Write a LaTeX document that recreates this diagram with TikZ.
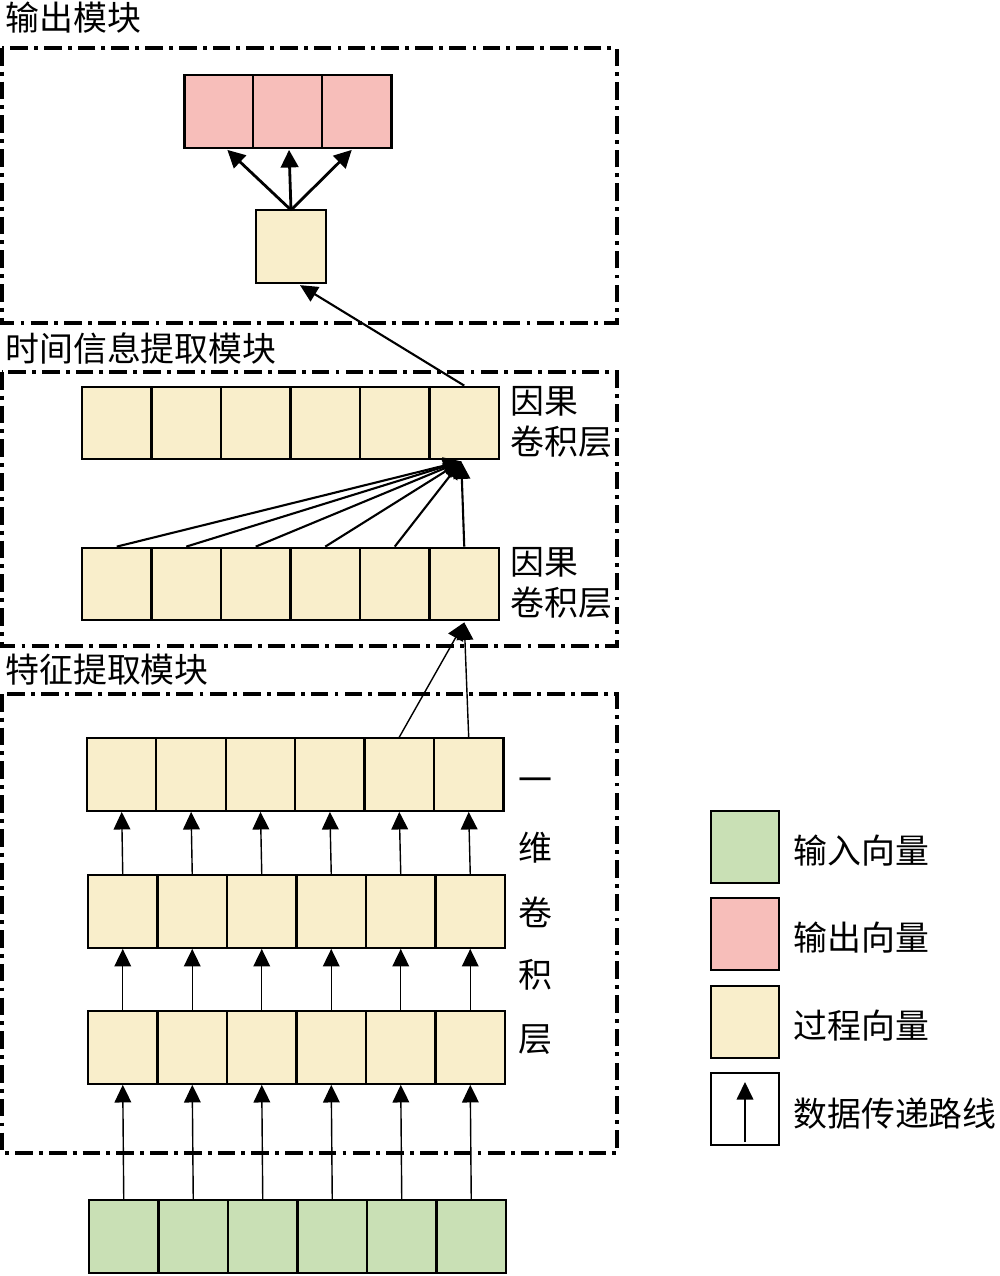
\documentclass[tikz,border=0pt]{standalone}
\usepackage{fontspec}
\newfontfamily\cjk{Noto Sans CJK SC}
\usetikzlibrary{arrows.meta,calc}
\definecolor{cgreen}{RGB}{201,224,181}
\definecolor{cred}{RGB}{247,190,186}
\definecolor{cyel}{RGB}{249,238,203}
\tikzset{
  cell/.style={draw=black,line width=1.3pt,inner sep=0pt,minimum width=1.39cm,minimum height=1.45cm},
  ycell/.style={cell,fill=cyel},
  gcell/.style={cell,fill=cgreen},
  rcell/.style={cell,fill=cred},
  module/.style={draw=black,line width=2pt,dash pattern=on 10pt off 3.5pt on 2.2pt off 3.5pt},
  txt/.style={font=\cjk\fontsize{19.3pt}{23pt}\selectfont,inner sep=0pt},
  arr/.style={-{Triangle[length=10pt,width=9.5pt]},line width=0.8pt},
  arrb/.style={-{Triangle[length=10pt,width=10pt]},line width=1.6pt},
  arrm/.style={-{Triangle[length=10pt,width=9.5pt]},line width=1.2pt},
}
\begin{document}
\begin{tikzpicture}[x=0.02cm,y=-0.02cm]
\useasboundingbox (0,0) rectangle (1000,1276);
% module boxes
\draw[module] (2,48) rectangle (617,323);
\draw[module] (2,372) rectangle (617,646);
\draw[module] (2,694) rectangle (617,1153);
\node[txt,anchor=west] (t1) at (5,18) {输出模块};
\node[txt,anchor=west] (t2) at (5,348) {时间信息提取模块};
\node[txt,anchor=west] (t3) at (5,670) {特征提取模块};
% output module
\foreach \i in {1,2,3} \node[rcell] (r\i) at ({185+68.7*(\i-0.5)},111.5) {};
\node[ycell,minimum width=1.4cm,minimum height=1.46cm] (s) at (291,246.5) {};
\coordinate (sN) at (291,210);
\draw[arrb] (sN) -- ($(r1.south)+(8,1)$);
\draw[arrb] (sN) -- ($(r2.south)+(1,1)$);
\draw[arrb] (sN) -- ($(r3.south)+(-5,1)$);
% causal layers
\foreach \i in {1,...,6} \node[ycell] (c\i) at ({82+69.5*(\i-0.5)},423) {};
\foreach \i in {1,...,6} \node[ycell] (d\i) at ({82+69.5*(\i-0.5)},584) {};
\node[txt,anchor=west,align=left] (lab1) at (510,422) {因果\\卷积层};
\node[txt,anchor=west,align=left] (lab2) at (510,583) {因果\\卷积层};
\coordinate (cT) at ($(c6.south)+(-3,1)$);
\foreach \i in {1,...,6} \draw[arrm] (d\i.north) -- (cT);
\draw[arrm] (c6.north) -- ($(s.south)+(9,1)$);
% feature layers
\foreach \i in {1,...,6} \node[ycell] (fa\i) at ({87+69.4*(\i-0.5)},774.5) {};
\foreach \i in {1,...,6} \node[ycell] (fb\i) at ({88+69.5*(\i-0.5)},911.5) {};
\foreach \i in {1,...,6} \node[ycell] (fc\i) at ({88+69.5*(\i-0.5)},1047.5) {};
\foreach \i in {1,...,6} \node[gcell] (in\i) at ({89+69.5*(\i-0.5)},1236.5) {};
\foreach \i in {1,...,6} {
  \draw[arr] (fb\i.north) -- (fa\i.south);
  \draw[arr] (fc\i.north) -- (fb\i.south);
  \draw[arr] (in\i.north) -- (fc\i.south);
}
\draw[arr] (fa5.north) -- ($(d6.south)+(0,1)$);
\draw[arr] (fa6.north) -- ($(d6.south)+(0,1)$);
\foreach \ch/\y [count=\k] in {一/785,维/848,卷/912,积/975,层/1040}
  \node[txt] (v\k) at (535,\y) {\ch};
% legend
\node[gcell,minimum width=1.36cm,minimum height=1.44cm] (lg) at (745,847) {};
\node[rcell,minimum width=1.36cm,minimum height=1.44cm] (lr) at (745,934) {};
\node[ycell,minimum width=1.36cm,minimum height=1.44cm] (ly) at (745,1022) {};
\node[cell,fill=white,minimum width=1.36cm,minimum height=1.44cm] (la) at (745,1109) {};
\coordinate (laB) at (745,1142);
\coordinate (laT) at (745,1082);
\draw[arr] (laB) -- (laT);
\node[txt,anchor=west] (tg) at (793,851) {输入向量};
\node[txt,anchor=west] (tr) at (793,938) {输出向量};
\node[txt,anchor=west] (ty) at (793,1026) {过程向量};
\node[txt,anchor=west] (ta) at (793,1114) {数据传递路线};
\end{tikzpicture}
\end{document}
